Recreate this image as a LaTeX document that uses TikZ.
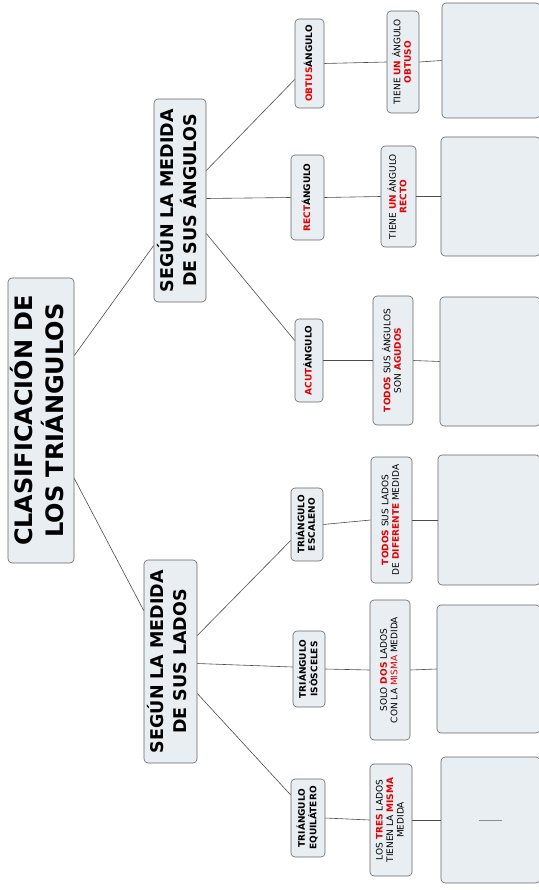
\documentclass[tikz,border=0pt]{standalone}
\usepackage{fontspec}
\setmainfont{DejaVu Sans}
\usepackage{graphicx}
\usetikzlibrary{calc}

\definecolor{boxfill}{RGB}{233,238,243}
\definecolor{mapred}{RGB}{228,0,0}
\newcommand{\vtext}[1]{\rotatebox{90}{\begin{tabular}{@{}c@{}}#1\end{tabular}}}
\newcommand{\redb}[1]{\textbf{\textcolor{mapred}{#1}}}
\newcommand{\redt}[1]{\textcolor{mapred}{#1}}

\begin{document}
\begin{tikzpicture}[x=1pt,y=1pt,
	mapbox/.style={draw=black!60,fill=boxfill,rounded corners=4pt,inner sep=0pt,line width=0.6pt},
	rootbox/.style={mapbox,font=\fontsize{24}{28}\selectfont\bfseries},
	branchbox/.style={mapbox,font=\fontsize{17.5}{23}\selectfont\bfseries},
	typebox/.style={mapbox,font=\fontsize{9}{10.5}\selectfont\bfseries},
	notebox/.style={mapbox,font=\fontsize{9}{10.5}\selectfont},
	link/.style={draw=black!70,line width=0.6pt}]
	\useasboundingbox (0,0) rectangle (538,-890);
	\fill[white] (0,0) rectangle (538,-890);
	
	% centre and the two branches
	\node[rootbox,minimum width=66pt,minimum height=285pt] at (41,-420.5) (root) {\vtext{CLASIFICACIÓN DE\\LOS TRIÁNGULOS}};
	\node[branchbox,minimum width=52pt,minimum height=203pt] at (180,-200.5) (ang) {\vtext{SEGÚN LA MEDIDA\\DE SUS ÁNGULOS}};
	\node[branchbox,minimum width=53pt,minimum height=203pt] at (170.5,-661.5) (lad) {\vtext{SEGÚN LA MEDIDA\\DE SUS LADOS}};
	
	\draw[link] ([yshift=65pt]root.east) -- ([yshift=-45pt]ang.west);
	\draw[link] ([yshift=-58pt]root.east) -- ([yshift=51pt]lad.west);
	
	% by angles
	\node[typebox,minimum width=29pt,minimum height=89pt] at (309.5,-63.5) (obtus) {\vtext{\textcolor{mapred}{OBTUS}ÁNGULO}};
	\node[typebox,minimum width=33pt,minimum height=85pt] at (307.5,-197.5) (rect) {\vtext{\textcolor{mapred}{RECT}ÁNGULO}};
	\node[typebox,minimum width=28pt,minimum height=83pt] at (309,-360.5) (acut) {\vtext{\textcolor{mapred}{ACUT}ÁNGULO}};
	
	\node[notebox,minimum width=32pt,minimum height=102pt] at (403,-62) (obtusnote) {\vtext{TIENE \redb{UN} ÁNGULO\\\redb{OBTUSO}}};
	\node[notebox,minimum width=35pt,minimum height=101pt] at (398.5,-196.5) (rectnote) {\vtext{TIENE \redb{UN} ÁNGULO\\\redb{RECTO}}};
	\node[notebox,minimum width=40pt,minimum height=129pt] at (393,-360.5) (acutnote) {\vtext{\redb{TODOS} SUS ÁNGULOS\\SON \redb{AGUDOS}}};
	
	\node[mapbox,minimum width=98pt,minimum height=115pt] at (491,-60.5) (obtusfig) {};
	\node[mapbox,minimum width=99pt,minimum height=119pt] at (490.5,-196.5) (rectfig) {};
	\node[mapbox,minimum width=100pt,minimum height=129pt] at (490,-361.5) (acutfig) {};
	
	\draw[link] ([yshift=30pt]ang.east) -- ([yshift=-16pt]obtus.west);
	\draw[link] ([yshift=2pt]ang.east) -- (rect.west);
	\draw[link] ([yshift=-33pt]ang.east) -- ([yshift=20pt]acut.west);
	
	\draw[link] (obtus.east) -- (obtusnote.west);
	\draw[link] (rect.east) -- (rectnote.west);
	\draw[link] (acut.east) -- (acutnote.west);
	\draw[link] (obtusnote.east) -- (obtusfig.west);
	\draw[link] (rectnote.east) -- (rectfig.west);
	\draw[link] (acutnote.east) -- (acutfig.west);
	
	% by sides
	\node[typebox,minimum width=32pt,minimum height=73pt] at (307,-524.5) (esc) {\vtext{TRIÁNGULO\\ESCALENO}};
	\node[typebox,minimum width=32pt,minimum height=76pt] at (309,-669) (iso) {\vtext{TRIÁNGULO\\ISÓSCELES}};
	\node[typebox,minimum width=34pt,minimum height=78pt] at (308,-818) (equi) {\vtext{TRIÁNGULO\\EQUILÁTERO}};
	
	\node[notebox,minimum width=41pt,minimum height=126pt] at (391.5,-520) (escnote) {\vtext{\redb{TODOS} SUS LADOS\\DE \redb{DIFERENTE} MEDIDA}};
	\node[notebox,minimum width=40pt,minimum height=140pt] at (390,-670) (isonote) {\vtext{SOLO \redb{DOS} LADOS\\CON LA \redt{MISMA} MEDIDA}};
	\node[notebox,minimum width=42pt,minimum height=112pt] at (391,-820) (equinote) {\vtext{LOS \redb{TRES} LADOS\\TIENEN LA \redb{MISMA}\\MEDIDA}};
	
	\node[mapbox,minimum width=102pt,minimum height=130pt] at (489,-520) (escfig) {};
	\node[mapbox,minimum width=103pt,minimum height=128pt] at (488.5,-669) (isofig) {};
	\node[mapbox,minimum width=99pt,minimum height=126pt] at (490.5,-820) (equifig) {\textcolor{black!45}{\rule{23pt}{0.8pt}}};
	
	\draw[link] ([yshift=26pt]lad.east) -- ([yshift=-16pt]esc.west);
	\draw[link] ([yshift=-2pt]lad.east) -- ([yshift=2pt]iso.west);
	\draw[link] ([yshift=-32pt]lad.east) -- ([yshift=23pt]equi.west);
	
	\draw[link] (esc.east) -- (escnote.west);
	\draw[link] (iso.east) -- (isonote.west);
	\draw[link] (equi.east) -- (equinote.west);
	\draw[link] (escnote.east) -- (escfig.west);
	\draw[link] (isonote.east) -- (isofig.west);
	\draw[link] (equinote.east) -- (equifig.west);
\end{tikzpicture}
\end{document}
